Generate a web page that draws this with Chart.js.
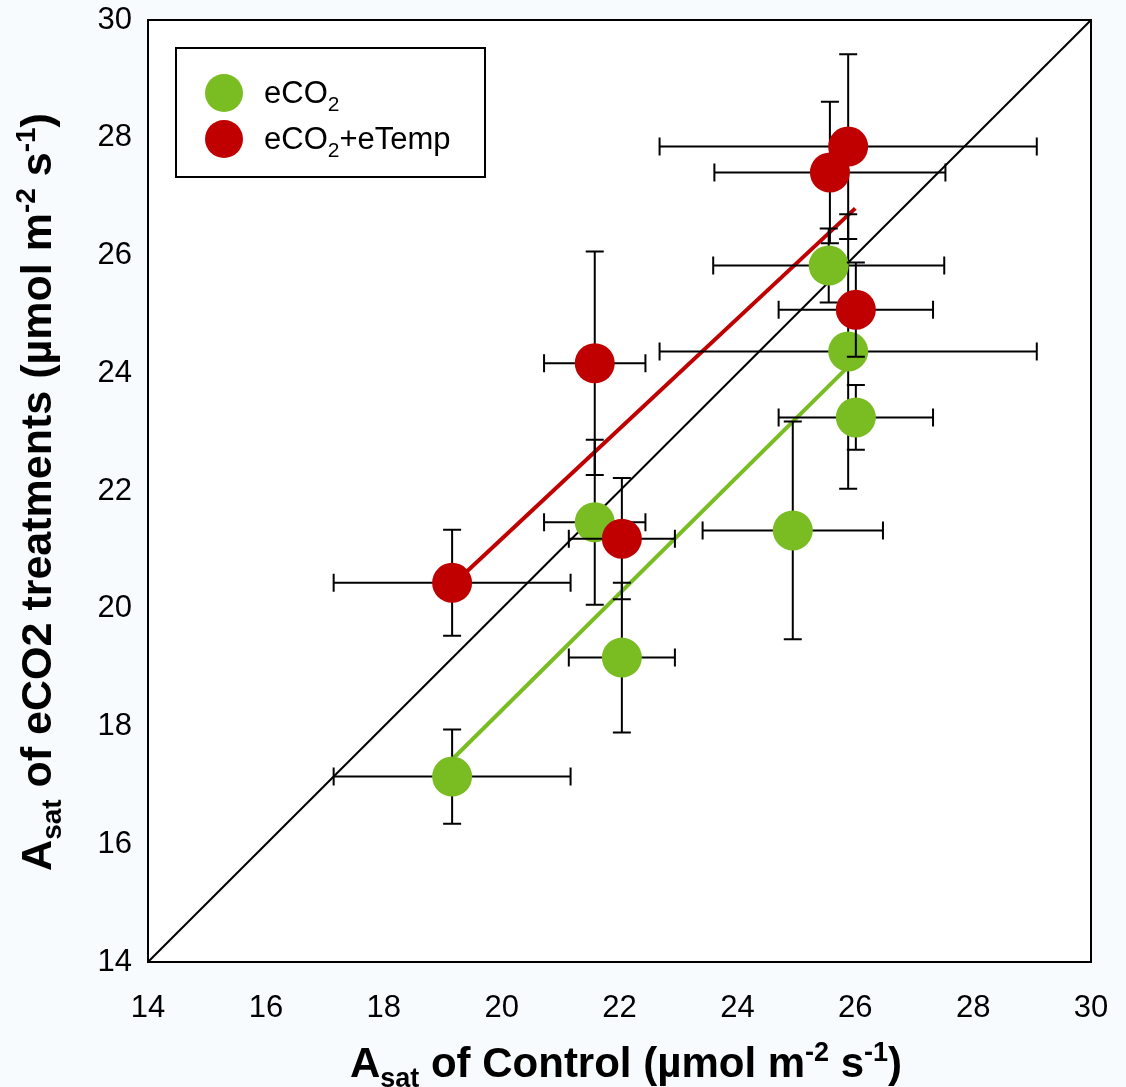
<!DOCTYPE html>
<html>
<head>
<meta charset="utf-8">
<script src="https://cdn.jsdelivr.net/npm/chart.js@4"></script>
<style>
  html, body { margin: 0; padding: 0; background: #f7fbfd; }
  #wrap { width: 1126px; height: 1087px; }
</style>
</head>
<body>
<div id="wrap"><canvas id="chart"></canvas></div>
<script>
// --- data ---
const tickValues = [14, 16, 18, 20, 22, 24, 26, 28, 30];

const greenX    = [19.16, 21.58, 22.04, 24.94, 25.55, 25.88, 26.01];
const greenY    = [17.15, 21.47, 19.17, 21.33, 25.83, 24.37, 23.25];
const greenXErr = [2.01, 0.86, 0.90, 1.53, 1.96, 3.20, 1.31];
const greenYErr = [0.80, 1.40, 1.27, 1.85, 0.63, 2.33, 0.55];

const redX    = [19.16, 21.58, 22.04, 25.57, 25.88, 26.01];
const redY    = [20.44, 24.17, 21.19, 27.41, 27.85, 25.08];
const redXErr = [2.01, 0.86, 0.90, 1.96, 3.20, 1.31];
const redYErr = [0.90, 1.90, 1.03, 1.20, 1.57, 0.80];

const greenFitX = [19.16, 25.95];
const greenFitY = [17.44, 24.18];
const redFitX   = [19.16, 26.00];
const redFitY   = [20.40, 26.80];
const oneToOne  = [14, 30];

const GREEN = '#7abd23';
const RED = '#c00000';
const FONT = '"Liberation Sans", Arial, sans-serif';

const toPts = (xs, ys) => xs.map((x, i) => ({ x: x, y: ys[i] }));

// white plot area on the tinted page
const plotBg = {
    id: 'plotBg',
    beforeDraw(chart) {
        const a = chart.chartArea, c = chart.ctx;
        c.save();
        c.fillStyle = '#fff';
        c.fillRect(a.left, a.top, a.right - a.left, a.bottom - a.top);
        c.restore();
    }
};

// error bars drawn just before each point series
const errorBars = {
    id: 'errorBars',
    beforeDatasetDraw(chart, args) {
        const ds = chart.data.datasets[args.index];
        if (!ds.xErr) return;
        const xs = chart.scales.x, ys = chart.scales.y, c = chart.ctx;
        const cap = 9;
        c.save();
        c.strokeStyle = '#000';
        c.lineWidth = 2;
        ds.data.forEach((p, i) => {
            const px = xs.getPixelForValue(p.x), py = ys.getPixelForValue(p.y);
            const x1 = xs.getPixelForValue(p.x - ds.xErr[i]), x2 = xs.getPixelForValue(p.x + ds.xErr[i]);
            const y1 = ys.getPixelForValue(p.y - ds.yErr[i]), y2 = ys.getPixelForValue(p.y + ds.yErr[i]);
            c.beginPath();
            c.moveTo(x1, py); c.lineTo(x2, py);
            c.moveTo(x1, py - cap); c.lineTo(x1, py + cap);
            c.moveTo(x2, py - cap); c.lineTo(x2, py + cap);
            c.moveTo(px, y1); c.lineTo(px, y2);
            c.moveTo(px - cap, y1); c.lineTo(px + cap, y1);
            c.moveTo(px - cap, y2); c.lineTo(px + cap, y2);
            c.stroke();
        });
        c.restore();
    }
};

// writes text pieces in a row, with sub/superscripts
function drawPieces(c, pieces, x, y) {
    let w = 0;
    pieces.forEach(p => { c.font = 'bold ' + p.size + 'px ' + FONT; w += c.measureText(p.t).width; });
    let cx = x - w / 2;
    pieces.forEach(p => {
        c.font = 'bold ' + p.size + 'px ' + FONT;
        c.fillText(p.t, cx, y + (p.dy || 0));
        cx += c.measureText(p.t).width;
    });
}

function titlePieces(mid, big) {
    const small = Math.round(big * 0.64);
    return [
        { t: 'A', size: big },
        { t: 'sat', size: small, dy: Math.round(big * 0.24) },
        { t: mid, size: big },
        { t: '-2', size: small, dy: -Math.round(big * 0.38) },
        { t: ' s', size: big },
        { t: '-1', size: small, dy: -Math.round(big * 0.38) },
        { t: ')', size: big }
    ];
}

const frameAndText = {
    id: 'frameAndText',
    afterDraw(chart) {
        const c = chart.ctx, a = chart.chartArea;
        c.save();
        c.strokeStyle = '#000';
        c.lineWidth = 2;
        c.strokeRect(a.left, a.top, a.right - a.left, a.bottom - a.top);

        // axis titles
        c.fillStyle = '#000';
        c.textBaseline = 'alphabetic';
        drawPieces(c, titlePieces(' of Control (\u00b5mol m', 42), 626, 1077);
        c.save();
        c.translate(51, 492);
        c.rotate(-Math.PI / 2);
        drawPieces(c, titlePieces(' of eCO2 treatments (\u00b5mol m', 43), 0, 0);
        c.restore();

        // legend
        c.fillStyle = '#fff';
        c.fillRect(176, 48, 309, 129);
        c.strokeRect(176, 48, 309, 129);
        const rows = [
            { color: GREEN, y: 93, rest: '' },
            { color: RED, y: 139, rest: '+eTemp' }
        ];
        rows.forEach(r => {
            c.fillStyle = r.color;
            c.beginPath();
            c.arc(224, r.y, 19, 0, Math.PI * 2);
            c.fill();
            c.fillStyle = '#000';
            let tx = 264;
            c.font = '31px ' + FONT;
            c.fillText('eCO', tx, r.y + 10);
            tx += c.measureText('eCO').width;
            c.font = '21px ' + FONT;
            c.fillText('2', tx, r.y + 18);
            tx += c.measureText('2').width;
            c.font = '31px ' + FONT;
            c.fillText(r.rest, tx, r.y + 10);
        });
        c.restore();
    }
};

const axisCommon = {
    type: 'linear',
    min: 14,
    max: 30,
    grid: { display: false, drawOnChartArea: false, drawTicks: true, tickLength: 10, tickColor: '#000', tickWidth: 2 },
    border: { display: true, color: '#000', width: 2 },
    afterBuildTicks: s => { s.ticks = tickValues.map(v => ({ value: v })); },
    ticks: { color: '#000', font: { family: FONT, size: 31 } }
};

new Chart(document.getElementById('chart'), {
    type: 'scatter',
    data: {
        datasets: [
            { type: 'line', data: toPts(oneToOne, oneToOne), borderColor: '#000', borderWidth: 2, pointRadius: 0, order: 5 },
            { type: 'line', data: toPts(greenFitX, greenFitY), borderColor: GREEN, borderWidth: 4, pointRadius: 0, order: 4 },
            { type: 'line', data: toPts(redFitX, redFitY), borderColor: RED, borderWidth: 4, pointRadius: 0, order: 3 },
            { label: 'eCO2', data: toPts(greenX, greenY), xErr: greenXErr, yErr: greenYErr,
              backgroundColor: GREEN, borderWidth: 0, pointRadius: 20, order: 2 },
            { label: 'eCO2+eTemp', data: toPts(redX, redY), xErr: redXErr, yErr: redYErr,
              backgroundColor: RED, borderWidth: 0, pointRadius: 20, order: 1 }
        ]
    },
    options: {
        responsive: true,
        maintainAspectRatio: false,
        animation: false,
        layout: { padding: { top: 18, right: 35, left: 0, bottom: 0 } },
        plugins: { legend: { display: false }, tooltip: { enabled: false } },
        scales: {
            x: Object.assign({}, axisCommon, {
                ticks: Object.assign({}, axisCommon.ticks, { padding: 18 }),
                afterFit: s => { s.height = 125; s.paddingLeft = 0; s.paddingRight = 0; }
            }),
            y: Object.assign({}, axisCommon, {
                ticks: Object.assign({}, axisCommon.ticks, { padding: 6 }),
                afterFit: s => { s.width = 148; s.paddingTop = 0; s.paddingBottom = 0; }
            })
        }
    },
    plugins: [plotBg, errorBars, frameAndText]
});
</script>
</body>
</html>
